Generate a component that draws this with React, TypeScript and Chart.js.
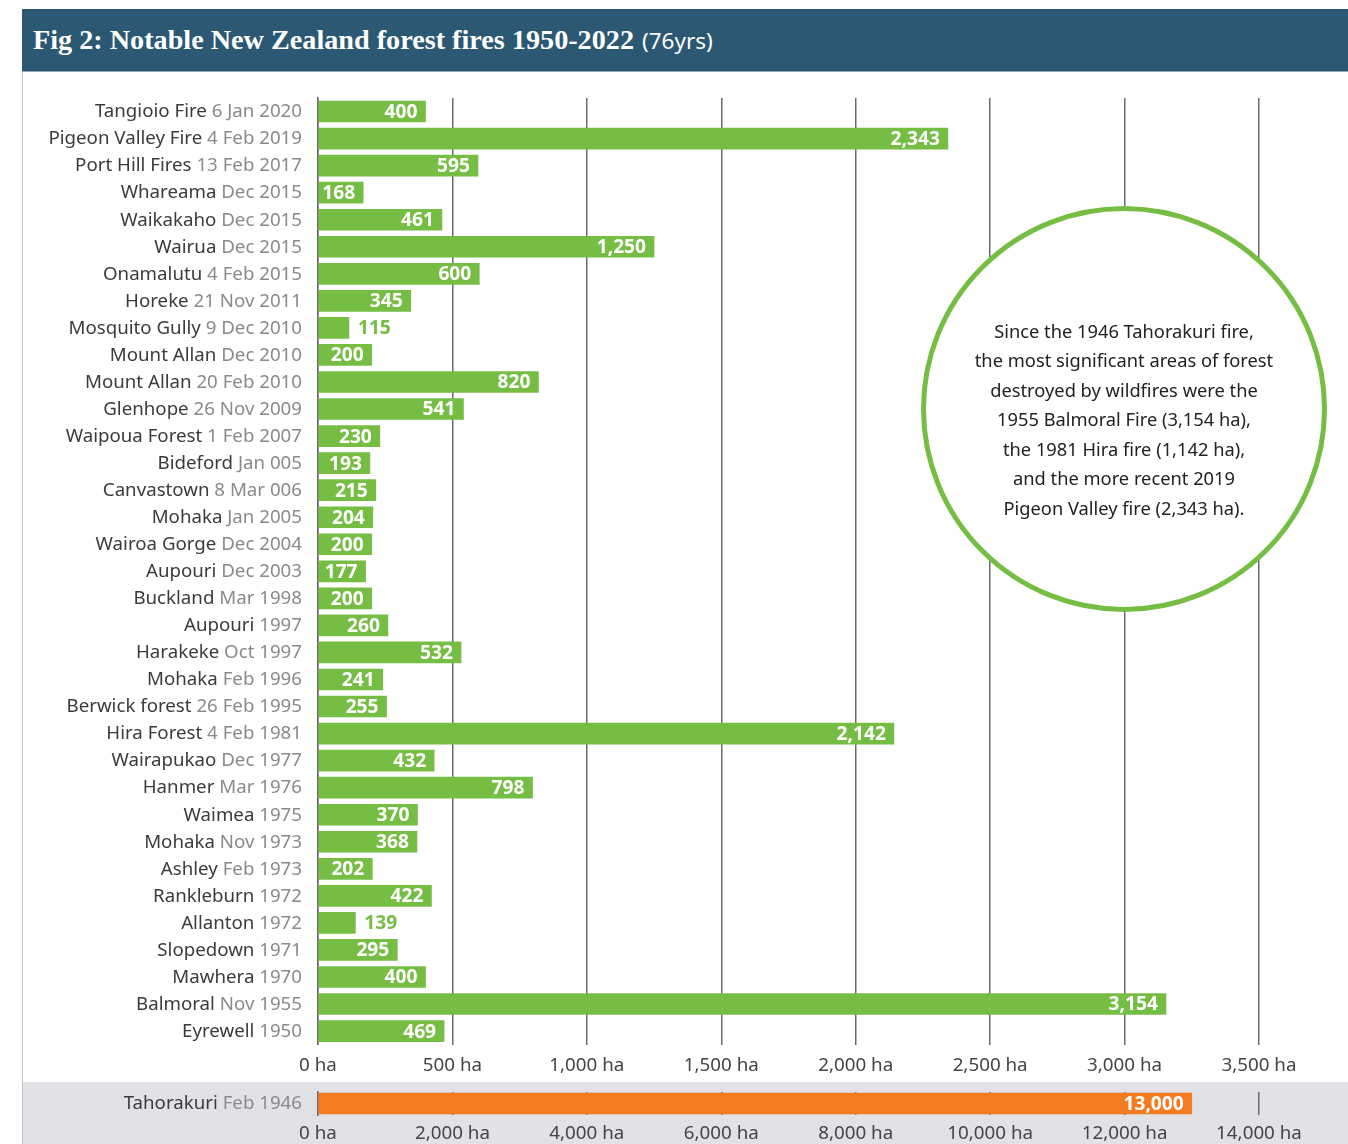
import React, { useEffect, useRef } from "react";
import { Chart, registerables } from "chart.js";
Chart.register(...registerables);

const fireNames = [
  "Tangioio Fire", "Pigeon Valley Fire", "Port Hill Fires", "Whareama", "Waikakaho", "Wairua",
  "Onamalutu", "Horeke", "Mosquito Gully", "Mount Allan", "Mount Allan", "Glenhope",
  "Waipoua Forest", "Bideford", "Canvastown", "Mohaka", "Wairoa Gorge", "Aupouri",
  "Buckland", "Aupouri", "Harakeke", "Mohaka", "Berwick forest", "Hira Forest",
  "Wairapukao", "Hanmer", "Waimea", "Mohaka", "Ashley", "Rankleburn",
  "Allanton", "Slopedown", "Mawhera", "Balmoral", "Eyrewell",
];
const fireDates = [
  "6 Jan 2020", "4 Feb 2019", "13 Feb 2017", "Dec 2015", "Dec 2015", "Dec 2015",
  "4 Feb 2015", "21 Nov 2011", "9 Dec 2010", "Dec 2010", "20 Feb 2010", "26 Nov 2009",
  "1 Feb 2007", "Jan 005", "8 Mar 006", "Jan 2005", "Dec 2004", "Dec 2003",
  "Mar 1998", "1997", "Oct 1997", "Feb 1996", "26 Feb 1995", "4 Feb 1981",
  "Dec 1977", "Mar 1976", "1975", "Nov 1973", "Feb 1973", "1972",
  "1972", "1971", "1970", "Nov 1955", "1950",
];
const fireAreas = [
  400, 2343, 595, 168, 461, 1250,
  600, 345, 115, 200, 820, 541,
  230, 193, 215, 204, 200, 177,
  200, 260, 532, 241, 255, 2142,
  432, 798, 370, 368, 202, 422,
  139, 295, 400, 3154, 469,
];
const mainTicks = [0, 500, 1000, 1500, 2000, 2500, 3000, 3500];

const outlierNames = ["Tahorakuri"];
const outlierDates = ["Feb 1946"];
const outlierAreas = [13000];
const outlierTicks = [0, 2000, 4000, 6000, 8000, 10000, 12000, 14000];

const calloutLines = [
  "Since the 1946 Tahorakuri fire,",
  "the most significant areas of forest",
  "destroyed by wildfires were the",
  "1955 Balmoral Fire (3,154 ha),",
  "the 1981 Hira fire (1,142 ha),",
  "and the more recent 2019",
  "Pigeon Valley fire (2,343 ha).",
];

const GREEN = "#76bd43";
const ORANGE = "#f47b20";
const GRID = "#6a6a6a";
const FONT = "'Noto Sans', Lato, sans-serif";
const fmt = (v: number) => v.toLocaleString("en-US");

function categoryLabelPlugin(names: string[], dates: string[]) {
  return {
    id: "catLabels",
    afterDraw(chart: any) {
      const ctx = chart.ctx;
      const ys = chart.scales.y;
      const x0 = chart.chartArea.left - 16;
      ctx.save();
      ctx.font = `18.7px ${FONT}`;
      ctx.textAlign = "right";
      ctx.textBaseline = "middle";
      const sp = ctx.measureText(" ").width;
      names.forEach((n, i) => {
        const y = ys.getPixelForValue(i) + 0.5;
        ctx.fillStyle = "#8a8a8a";
        ctx.fillText(dates[i], x0, y);
        const w = ctx.measureText(dates[i]).width;
        ctx.fillStyle = "#3b3b3b";
        ctx.fillText(n, x0 - w - sp, y);
      });
      ctx.restore();
    },
  };
}

function valueLabelPlugin(outsideColor: string) {
  return {
    id: "valLabels",
    afterDatasetsDraw(chart: any) {
      const ctx = chart.ctx;
      const meta = chart.getDatasetMeta(0);
      const vals = chart.data.datasets[0].data as number[];
      ctx.save();
      ctx.font = `bold 19.2px ${FONT}`;
      ctx.textBaseline = "middle";
      meta.data.forEach((bar: any, i: number) => {
        const txt = fmt(vals[i]);
        const tw = ctx.measureText(txt).width;
        const bw = bar.x - bar.base;
        if (bw >= tw + 10) {
          ctx.fillStyle = "#ffffff";
          ctx.textAlign = "right";
          ctx.fillText(txt, bar.x - 8, bar.y + 1);
        } else {
          ctx.fillStyle = outsideColor;
          ctx.textAlign = "left";
          ctx.fillText(txt, bar.x + 9, bar.y + 1);
        }
      });
      ctx.restore();
    },
  };
}

function makeOptions(max: number, ticks: number[], padTop: number, xHeight: number, tickPad: number) {
  return {
    indexAxis: "y" as const,
    animation: false as const,
    responsive: false,
    maintainAspectRatio: false,
    layout: { padding: { top: padTop, right: 89, left: 0, bottom: 0 } },
    plugins: { legend: { display: false }, tooltip: { enabled: false } },
    scales: {
      x: {
        type: "linear" as const,
        min: 0,
        max,
        afterBuildTicks: (s: any) => {
          s.ticks = ticks.map((v) => ({ value: v }));
        },
        grid: { color: GRID, lineWidth: 1.5, drawTicks: false },
        border: { display: false },
        ticks: {
          padding: tickPad,
          color: "#454545",
          autoSkip: false,
          maxRotation: 0,
          font: { family: FONT, size: 18.8 },
          callback: (v: any) => fmt(Number(v)) + " ha",
        },
        afterFit: (s: any) => {
          s.height = xHeight;
        },
      },
      y: {
        grid: { display: false },
        border: { display: true, color: GRID, width: 1.5 },
        ticks: { display: false },
        afterFit: (s: any) => {
          s.width = 296;
        },
      },
    },
  };
}

export default function App() {
  const mainRef = useRef<HTMLCanvasElement>(null);
  const botRef = useRef<HTMLCanvasElement>(null);

  useEffect(() => {
    const main = new Chart(mainRef.current!, {
      type: "bar",
      data: {
        labels: fireNames.map((n, i) => `${n} ${fireDates[i]}`),
        datasets: [
          {
            data: fireAreas,
            backgroundColor: GREEN,
            barThickness: 21,
            borderWidth: 0,
          },
        ],
      },
      options: makeOptions(3500, mainTicks, 26, 37.4, 9.5) as any,
      plugins: [categoryLabelPlugin(fireNames, fireDates), valueLabelPlugin(GREEN)],
    });
    const bot = new Chart(botRef.current!, {
      type: "bar",
      data: {
        labels: outlierNames.map((n, i) => `${n} ${outlierDates[i]}`),
        datasets: [
          {
            data: outlierAreas,
            backgroundColor: ORANGE,
            barThickness: 21,
            borderWidth: 0,
          },
        ],
      },
      options: makeOptions(14000, outlierTicks, 10, 29, 7.5) as any,
      plugins: [categoryLabelPlugin(outlierNames, outlierDates), valueLabelPlugin(ORANGE)],
    });
    return () => {
      main.destroy();
      bot.destroy();
    };
  }, []);

  return (
    <div style={{ position: "absolute", left: 0, top: 0, width: 1348, height: 1144, background: "#fff", overflow: "hidden" }}>
      <div
        style={{
          position: "absolute",
          left: 22,
          top: 9,
          width: 1326,
          height: 63,
          background: "#2b5872",
          borderBottom: "1px solid #9aa6ae",
          boxSizing: "border-box",
          color: "#fff",
          whiteSpace: "nowrap",
        }}
      >
        <div style={{ position: "absolute", left: 11, top: 15, lineHeight: "32px" }}>
          <span style={{ fontFamily: "'Liberation Serif', serif", fontWeight: 700, fontSize: 28.2, letterSpacing: "0px" }}>
            Fig 2: Notable New Zealand forest fires 1950-2022
          </span>
          <span style={{ fontFamily: FONT, fontSize: 22.5, marginLeft: 8 }}>(76yrs)</span>
        </div>
      </div>
      <div style={{ position: "absolute", left: 22, top: 72, width: 1, height: 1072, background: "#c4c4c4" }} />
      <div style={{ position: "absolute", left: 23, top: 1082, width: 1325, height: 62, background: "#e2e1e6" }} />
      <canvas ref={mainRef} width={1326} height={1010} style={{ position: "absolute", left: 22, top: 72, display: "block" }} />
      <canvas ref={botRef} width={1326} height={62} style={{ position: "absolute", left: 22, top: 1082, display: "block" }} />
      <div
        style={{
          position: "absolute",
          left: 921,
          top: 206,
          width: 406,
          height: 406,
          borderRadius: "50%",
          border: `5px solid ${GREEN}`,
          boxSizing: "border-box",
          background: "#fff",
          display: "flex",
          flexDirection: "column",
          alignItems: "center",
          justifyContent: "center",
          paddingTop: 20,
          fontFamily: FONT,
          fontSize: 18.3,
          lineHeight: "29.5px",
          color: "#222",
          textAlign: "center",
        }}
      >
        {calloutLines.map((l, i) => (
          <div key={i}>{l}</div>
        ))}
      </div>
    </div>
  );
}
